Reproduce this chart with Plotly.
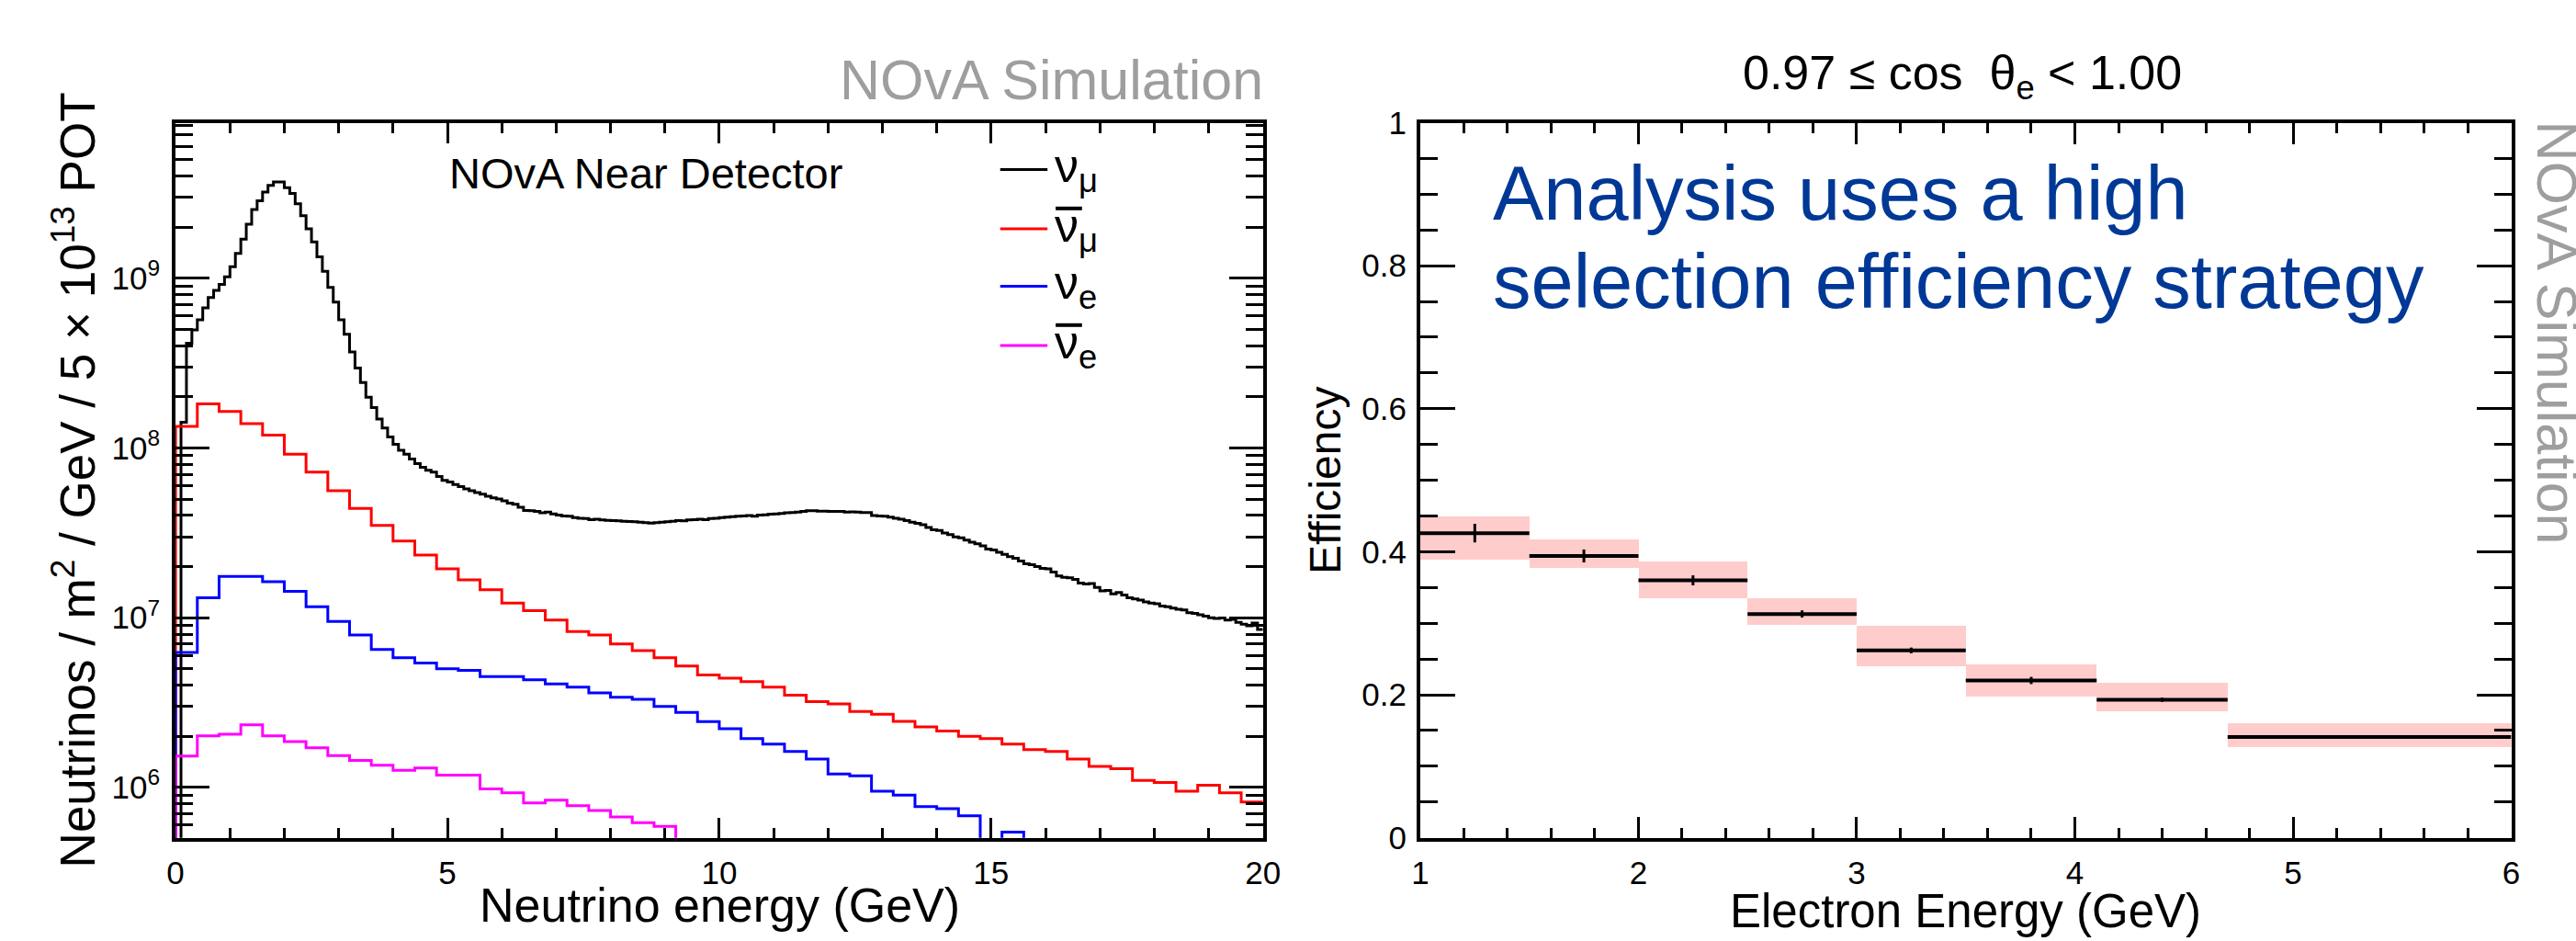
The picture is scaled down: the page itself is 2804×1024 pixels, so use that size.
import numpy as np
import plotly.graph_objects as go

W, H = 2804, 1024
FONT = "Liberation Sans, Arial, Helvetica, sans-serif"

# ---------------- left panel: flux histograms ----------------
numu_edges = np.round(np.linspace(0, 20, 201), 3)      # 0.1 GeV bins
numu = [
    0, 1.42e8, 4.15e8, 4.97e8, 5.70e8, 6.70e8, 7.70e8, 8.50e8, 9.20e8, 1.02e9,
    1.17e9, 1.40e9, 1.70e9, 2.08e9, 2.54e9, 2.86e9, 3.22e9, 3.53e9, 3.70e9, 3.70e9,
    3.42e9, 3.16e9, 2.75e9, 2.34e9, 1.96e9, 1.64e9, 1.34e9, 1.10e9, 8.85e8, 7.25e8,
    5.70e8, 4.68e8, 3.68e8, 2.96e8, 2.43e8, 1.99e8, 1.73e8, 1.48e8, 1.31e8, 1.16e8,
    1.05e8, 9.7e7, 9.2e7, 8.6e7, 8.1e7, 7.7e7, 7.4e7, 7.2e7, 6.8e7, 6.45e7,
    6.31e7, 6.10e7, 5.92e7, 5.75e7, 5.60e7, 5.47e7, 5.35e7, 5.20e7, 5.08e7, 5.01e7,
    4.88e7, 4.74e7, 4.66e7, 4.47e7, 4.29e7, 4.27e7, 4.23e7, 4.15e7, 4.19e7, 4.09e7,
    4.02e7, 3.98e7, 3.96e7, 3.89e7, 3.85e7, 3.84e7, 3.78e7, 3.80e7, 3.77e7, 3.75e7,
    3.73e7, 3.72e7, 3.70e7, 3.69e7, 3.68e7, 3.66e7, 3.63e7, 3.61e7, 3.63e7, 3.65e7,
    3.68e7, 3.70e7, 3.73e7, 3.72e7, 3.77e7, 3.78e7, 3.80e7, 3.78e7, 3.84e7, 3.85e7,
    3.89e7, 3.91e7, 3.94e7, 3.96e7, 3.98e7, 4.00e7, 3.96e7, 4.02e7, 4.04e7, 4.07e7,
    4.09e7, 4.11e7, 4.15e7, 4.17e7, 4.19e7, 4.23e7, 4.27e7, 4.27e7, 4.25e7, 4.25e7,
    4.23e7, 4.23e7, 4.23e7, 4.19e7, 4.21e7, 4.19e7, 4.17e7, 4.17e7, 4.00e7, 3.98e7,
    3.96e7, 3.91e7, 3.85e7, 3.80e7, 3.73e7, 3.65e7, 3.60e7, 3.53e7, 3.40e7, 3.30e7,
    3.27e7, 3.16e7, 3.09e7, 2.99e7, 2.96e7, 2.87e7, 2.79e7, 2.73e7, 2.65e7, 2.54e7,
    2.51e7, 2.43e7, 2.36e7, 2.29e7, 2.24e7, 2.16e7, 2.08e7, 2.05e7, 2.00e7, 1.95e7,
    1.94e7, 1.86e7, 1.76e7, 1.73e7, 1.72e7, 1.68e7, 1.60e7, 1.58e7, 1.59e7, 1.51e7,
    1.44e7, 1.45e7, 1.38e7, 1.41e7, 1.36e7, 1.31e7, 1.29e7, 1.27e7, 1.24e7, 1.22e7,
    1.21e7, 1.17e7, 1.16e7, 1.14e7, 1.12e7, 1.11e7, 1.07e7, 1.06e7, 1.04e7, 1.02e7,
    1.00e7, 9.91e6, 9.95e6, 9.68e6, 9.77e6, 9.38e6, 9.16e6, 8.95e6, 9.29e6, 8.51e6,
]

coarse_edges = np.round(np.linspace(0, 20, 51), 3)     # 0.4 GeV bins
numubar = [
    1.34e8, 1.82e8, 1.64e8, 1.39e8, 1.19e8, 9.2e7, 7.2e7, 5.6e7, 4.4e7, 3.5e7,
    2.83e7, 2.34e7, 1.94e7, 1.67e7, 1.46e7, 1.22e7, 1.10e7, 9.7e6, 8.3e6, 7.9e6,
    7.0e6, 6.4e6, 5.8e6, 5.2e6, 4.6e6, 4.4e6, 4.2e6, 3.9e6, 3.5e6, 3.2e6,
    3.1e6, 2.8e6, 2.7e6, 2.45e6, 2.27e6, 2.15e6, 2.0e6, 1.94e6, 1.80e6, 1.67e6,
    1.63e6, 1.47e6, 1.33e6, 1.29e6, 1.10e6, 1.07e6, 9.5e5, 1.03e6, 9.3e5, 8.2e5,
]
nue = [
    6.25e6, 1.31e7, 1.75e7, 1.75e7, 1.63e7, 1.43e7, 1.16e7, 9.5e6, 7.9e6, 6.5e6,
    5.8e6, 5.4e6, 5.0e6, 4.9e6, 4.5e6, 4.5e6, 4.3e6, 4.07e6, 3.9e6, 3.6e6,
    3.4e6, 3.3e6, 3.0e6, 2.77e6, 2.44e6, 2.22e6, 1.94e6, 1.80e6, 1.63e6, 1.47e6,
    1.20e6, 1.17e6, 9.5e5, 9.0e5, 7.7e5, 7.5e5, 6.8e5, 0, 5.45e5, 0,
    0, 0, 0, 0, 0, 0, 0, 0, 0, 0,
]
nuebar = [
    1.53e6, 2.01e6, 2.06e6, 2.34e6, 2.01e6, 1.86e6, 1.71e6, 1.54e6, 1.44e6, 1.35e6,
    1.26e6, 1.30e6, 1.18e6, 1.18e6, 9.8e5, 9.3e5, 8.1e5, 8.4e5, 7.8e5, 7.3e5,
    6.7e5, 6.2e5, 5.9e5, 0, 0, 0, 0, 0, 0, 0,
    0, 0, 0, 0, 0, 0, 0, 0, 0, 0,
    0, 0, 0, 0, 0, 0, 0, 0, 0, 0,
]
flux_names = ["ν<sub>μ</sub>", "ν<sub>μ</sub>", "ν<sub>e</sub>", "ν<sub>e</sub>"]
flux_is_anti = [False, True, False, True]
flux_colors = ["#000000", "#ff0000", "#0000ff", "#ff00ff"]

# ---------------- right panel: efficiency ----------------
e_edges = [1.0, 1.5, 2.0, 2.5, 3.0, 3.5, 4.1, 4.7, 6.0]
eff = [0.426, 0.394, 0.360, 0.313, 0.262, 0.220, 0.193, 0.141]
eff_stat = [0.013, 0.009, 0.007, 0.005, 0.004, 0.005, 0.003, 0.002]
eff_sys_lo = [0.389, 0.378, 0.336, 0.299, 0.241, 0.198, 0.178, 0.127]
eff_sys_hi = [0.450, 0.418, 0.387, 0.336, 0.297, 0.243, 0.218, 0.161]

FLOOR = 1e3  # empty bins are drawn below the visible range


def step_xy(edges, vals):
    xs = [edges[0]] + list(edges)
    ys = [FLOOR] + [v if v > 0 else FLOOR for v in vals] + [vals[-1] if vals[-1] > 0 else FLOOR]
    return xs, ys


fig = go.Figure()
for name, col, edges, vals in zip(flux_names, flux_colors,
                                  [numu_edges, coarse_edges, coarse_edges, coarse_edges],
                                  [numu, numubar, nue, nuebar]):
    xs, ys = step_xy(edges, vals)
    fig.add_trace(go.Scatter(x=xs, y=ys, mode="lines", line=dict(color=col, width=3, shape="hv"),
                             name=name, showlegend=False, xaxis="x", yaxis="y"))

centers = [(a + b) / 2 for a, b in zip(e_edges[:-1], e_edges[1:])]
widths = [b - a for a, b in zip(e_edges[:-1], e_edges[1:])]
fig.add_trace(go.Bar(x=centers, y=[h - l for h, l in zip(eff_sys_hi, eff_sys_lo)], base=eff_sys_lo,
                     width=widths, marker=dict(color="#ffcccc", line=dict(width=0)),
                     showlegend=False, xaxis="x2", yaxis="y2", hoverinfo="skip"))
seg_x, seg_y = [], []
for a, b, v in zip(e_edges[:-1], e_edges[1:], eff):
    seg_x += [a, b, None]
    seg_y += [v, v, None]
fig.add_trace(go.Scatter(x=seg_x, y=seg_y, mode="lines", line=dict(color="black", width=4),
                         showlegend=False, xaxis="x2", yaxis="y2"))
fig.add_trace(go.Scatter(x=centers, y=eff, mode="markers", marker=dict(size=1, color="black"),
                         error_y=dict(type="data", array=eff_stat, color="black", thickness=3, width=0),
                         showlegend=False, xaxis="x2", yaxis="y2"))

TICKFONT = dict(family=FONT, size=35, color="black")
frame = dict(showline=True, linewidth=4, linecolor="black", mirror="allticks", ticks="inside",
             tickwidth=3, tickcolor="black", showgrid=False, zeroline=False, tickfont=TICKFONT)

y_dom = [1 - 927 / H, 1 - 118 / H]
minor_log = [m * 10 ** e for e in range(5, 10) for m in range(2, 10)]

fig.update_layout(
    width=W, height=H, margin=dict(l=0, r=0, t=0, b=0), autosize=False,
    paper_bgcolor="white", plot_bgcolor="white", showlegend=False, bargap=0,
    xaxis=dict(domain=[183 / W, 1379 / W], range=[0, 20], anchor="y", tickvals=[0, 5, 10, 15, 20],
               ticklen=22, minor=dict(ticks="inside", dtick=1, ticklen=11, tickwidth=3, tickcolor="black"),
               ticklabelstandoff=4, **frame),
    yaxis=dict(domain=y_dom, type="log", range=[5.703, 9.917], anchor="x",
               tickvals=[1e6, 1e7, 1e8, 1e9],
               ticktext=["10<sup>6</sup>", "10<sup>7</sup>", "10<sup>8</sup>", "10<sup>9</sup>"],
               ticklen=37, minor=dict(ticks="inside", tickvals=minor_log, ticklen=19, tickwidth=3, tickcolor="black"),
               ticklabelstandoff=6, **frame),
    xaxis2=dict(domain=[1552 / W, 2752 / W], range=[1, 6], anchor="y2", tickvals=[1, 2, 3, 4, 5, 6],
                ticklen=23, minor=dict(ticks="inside", dtick=0.2, ticklen=11, tickwidth=3, tickcolor="black"),
                ticklabelstandoff=4, **frame),
    yaxis2=dict(domain=y_dom, range=[0, 1], anchor="x2", tickvals=[0, 0.2, 0.4, 0.6, 0.8, 1],
                ticktext=["0", "0.2", "0.4", "0.6", "0.8", "1"],
                ticklen=38, minor=dict(ticks="inside", dtick=0.05, ticklen=19, tickwidth=3, tickcolor="black"),
                ticklabelstandoff=4, **frame),
)


def ann(text, x, y, size, color="black", xanchor="center", yanchor="middle", angle=0):
    return dict(text=text, x=x / W, y=1 - y / H, xref="paper", yref="paper", showarrow=False,
                font=dict(family=FONT, size=size, color=color), xanchor=xanchor, yanchor=yanchor,
                textangle=angle)


GRAY = "#9e9e9e"
BLUE = "#003896"
annotations = [
    ann("NOvA Simulation", 1381, 70, 61, GRAY, xanchor="right"),
    ann("NOvA Near Detector", 482, 175, 47, xanchor="left"),
    ann("Neutrinos / m<sup>2</sup> / GeV / 5 × 10<sup>13</sup> POT", 71, 522, 53, angle=-90),
    ann("Neutrino energy (GeV)", 782, 1003, 52),
    ann("0.97 ≤ cos  θ<sub>e</sub> < 1.00", 2148, 66, 52),
    ann("Analysis uses a high", 1630, 198, 83, BLUE, xanchor="left"),
    ann("selection efficiency strategy", 1630, 298, 83, BLUE, xanchor="left"),
    ann("Efficiency", 1447, 523, 48, angle=-90),
    ann("Electron Energy (GeV)", 2152, 1010, 51),
    ann("NOvA Simulation", 2801, 355, 61, GRAY, angle=90),
]
shapes = []
leg_y = [171, 238, 303, 370]
for name, col, anti, ly in zip(flux_names, flux_colors, flux_is_anti, leg_y):
    shapes.append(dict(type="line", xref="paper", yref="paper", x0=1090 / W, x1=1142 / W,
                       y0=1 - ly / H, y1=1 - ly / H, line=dict(color=col, width=3)))
    annotations.append(ann(name, 1148, ly, 52, xanchor="left"))
    if anti:  # the bar of the antineutrino symbol, as ROOT's #bar draws it
        shapes.append(dict(type="line", xref="paper", yref="paper", x0=1151 / W, x1=1180 / W,
                           y0=1 - (ly - 23) / H, y1=1 - (ly - 23) / H, line=dict(color="black", width=4)))
fig.update_layout(annotations=annotations, shapes=shapes)

fig.write_html("out.html")
